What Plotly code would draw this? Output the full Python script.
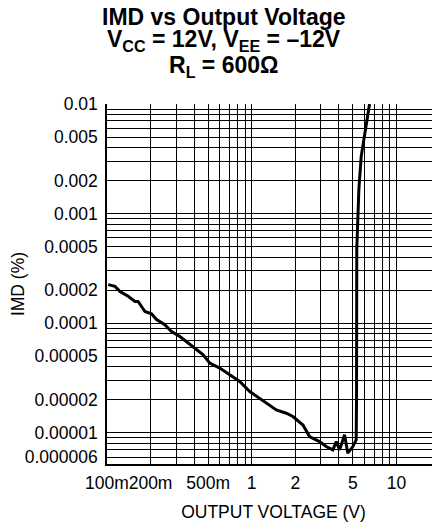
import plotly.graph_objects as go
import numpy as np

# Curve data
volts = [0.102, 0.1136, 0.123, 0.140, 0.156, 0.164, 0.183, 0.203, 0.220, 0.251,
         0.279, 0.319, 0.364, 0.416, 0.462, 0.513, 0.601, 0.705, 0.826, 0.969,
         1.136, 1.262, 1.479, 1.734, 1.926, 2.26, 2.51, 2.94, 3.27, 3.64,
         3.84, 4.05, 4.38, 4.61, 5.0, 5.27, 5.30, 5.32, 5.41, 5.50,
         5.71, 6.02, 6.52]
imd = [2.25e-4, 2.17e-4, 1.95e-4, 1.76e-4, 1.58e-4, 1.58e-4, 1.28e-4, 1.22e-4, 1.08e-4, 9.7e-5,
       8.4e-5, 7.57e-5, 6.6e-5, 5.73e-5, 5.15e-5, 4.33e-5, 3.9e-5, 3.39e-5, 2.94e-5, 2.38e-5,
       2.07e-5, 1.87e-5, 1.62e-5, 1.51e-5, 1.41e-5, 1.18e-5, 9.25e-6, 8.33e-6, 7.5e-6, 7.0e-6,
       8.33e-6, 7.0e-6, 9.6e-6, 6.53e-6, 7.5e-6, 8.63e-6, 2.0e-5, 4.69e-4, 8.2e-4, 1.66e-3,
       3.33e-3, 5.07e-3, 1.0e-2]

# Labelled ticks
x_tickvals = [0.1, 0.2, 0.5, 1, 2, 5, 10]
x_ticktext = ["100m", "200m", "500m", "1", "2", "5", "10"]
y_tickvals = [6e-6, 1e-5, 2e-5, 5e-5, 1e-4, 2e-4, 5e-4, 1e-3, 2e-3, 5e-3, 1e-2]
y_ticktext = ["0.000006", "0.00001", "0.00002", "0.00005", "0.0001", "0.0002",
              "0.0005", "0.001", "0.002", "0.005", "0.01"]

# Unlabelled grid lines
x_minor = [0.3, 0.4, 0.6, 0.7, 0.8, 0.9, 3, 4, 6, 7, 8, 9]
y_minor = [7e-6, 8e-6, 9e-6, 3e-5, 4e-5, 6e-5, 7e-5, 8e-5, 9e-5,
           3e-4, 4e-4, 6e-4, 7e-4, 8e-4, 9e-4, 3e-3, 4e-3, 6e-3, 7e-3, 8e-3, 9e-3]

FONT = "Liberation Sans, Arial, Helvetica, sans-serif"
GRID = dict(color="black", width=1.3)
TS = 17.5

fig = go.Figure()
fig.add_trace(go.Scatter(x=volts, y=imd, mode="lines",
                         line=dict(color="black", width=3), showlegend=False,
                         cliponaxis=True))

fig.update_xaxes(type="log", range=[np.log10(0.1), np.log10(20)],
                 tickmode="array", tickvals=x_tickvals, ticktext=x_ticktext,
                 tickangle=0, automargin=False,
                 showgrid=True, gridcolor=GRID["color"], gridwidth=GRID["width"],
                 minor=dict(tickmode="array", tickvals=x_minor, showgrid=True,
                            gridcolor=GRID["color"], gridwidth=GRID["width"], ticks=""),
                 showline=True, linecolor="black", linewidth=1.5,
                 ticks="", zeroline=False, ticklabelstandoff=2,
                 tickfont=dict(family=FONT, size=TS, color="black"),
                 title=dict(text="OUTPUT VOLTAGE (V)", standoff=14,
                            font=dict(family=FONT, size=TS, color="black")))
fig.update_yaxes(type="log", range=[np.log10(5.2e-6), np.log10(0.01)],
                 tickmode="array", tickvals=y_tickvals, ticktext=y_ticktext,
                 automargin=False,
                 showgrid=True, gridcolor=GRID["color"], gridwidth=GRID["width"],
                 minor=dict(tickmode="array", tickvals=y_minor, showgrid=True,
                            gridcolor=GRID["color"], gridwidth=GRID["width"], ticks=""),
                 showline=True, linecolor="black", linewidth=1.5,
                 ticks="", zeroline=False, ticklabelstandoff=4,
                 tickfont=dict(family=FONT, size=TS, color="black"),
                 title=dict(text="IMD (%)", standoff=0,
                            font=dict(family=FONT, size=TS, color="black")))

# The page places the figure 8px in from the top-left corner of the window.
OFF = 8
W, H = 440 - OFF, 529 - OFF
L, R, T, B = 107 - OFF, 0, 104 - OFF, 529 - 464
pw, ph = W - L - R, H - T - B

def px_x(page_x):
    return (page_x - OFF - L) / pw

def px_y(page_y):
    return 1 + (T - (page_y - OFF)) / ph

title_lines = ["<b>IMD vs Output Voltage</b>",
               "<b>V<sub>CC</sub> = 12V, V<sub>EE</sub> = \u201312V</b>",
               "<b>R<sub>L</sub> = 600\u03a9</b>"]
title_y = [17.5, 40.5, 67]
for txt, yy in zip(title_lines, title_y):
    fig.add_annotation(text=txt, xref="paper", yref="paper",
                       x=px_x(223.7), y=px_y(yy), xanchor="center", yanchor="middle",
                       showarrow=False, borderpad=0,
                       font=dict(family=FONT, size=23, color="black"))

fig.update_layout(width=W, height=H, margin=dict(l=L, r=R, t=T, b=B),
                  plot_bgcolor="white", paper_bgcolor="white")

fig.write_html("out.html")
